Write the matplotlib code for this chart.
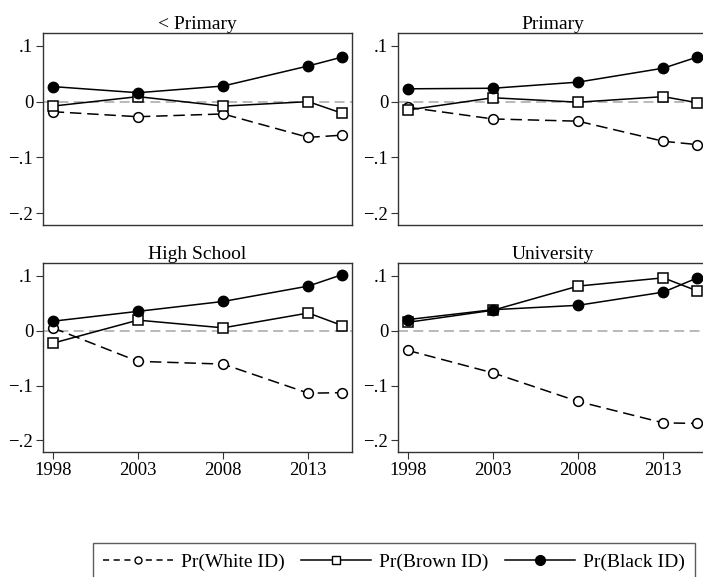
import numpy as np
import matplotlib.pyplot as plt
from matplotlib.lines import Line2D

plt.rcParams.update({
    "font.family": "serif",
    "font.serif": ["Liberation Serif", "DejaVu Serif"],
    "font.size": 11,
})

years = [1998, 2003, 2008, 2013, 2015]
panels = ["< Primary", "Primary", "High School", "University"]

# predicted changes by education group
white = [
    [-0.018, -0.027, -0.022, -0.064, -0.060],
    [-0.010, -0.031, -0.035, -0.071, -0.077],
    [0.005, -0.056, -0.061, -0.114, -0.113],
    [-0.036, -0.077, -0.129, -0.168, -0.169],
]
brown = [
    [-0.008, 0.009, -0.008, 0.000, -0.021],
    [-0.015, 0.007, -0.001, 0.009, -0.002],
    [-0.023, 0.019, 0.005, 0.032, 0.009],
    [0.015, 0.037, 0.081, 0.096, 0.072],
]
black = [
    [0.027, 0.016, 0.028, 0.064, 0.080],
    [0.023, 0.024, 0.035, 0.060, 0.080],
    [0.017, 0.035, 0.053, 0.081, 0.102],
    [0.020, 0.038, 0.046, 0.070, 0.096],
]

W, H = 703, 577
fig = plt.figure(figsize=(W / 100, H / 100), dpi=100)

# axes boxes in pixels: left, top, right, bottom
boxes = [
    (43, 33, 352, 225),
    (398, 33, 707, 225),
    (43, 263, 352, 452),
    (398, 263, 707, 452),
]

edge = "#333333"
for i, (l, t, r, b) in enumerate(boxes):
    ax = fig.add_axes([l / W, 1 - b / H, (r - l) / W, (b - t) / H])
    ax.axhline(0, color="#b3b3b3", lw=1.3, ls=(0, (5.5, 3)), zorder=1)
    ax.plot(years, white[i], color="black", lw=1.1, ls=(0, (7.5, 3.8)),
            marker="o", ms=7, mfc="white", mec="black", mew=1.1, zorder=3)
    ax.plot(years, brown[i], color="black", lw=1.1,
            marker="s", ms=7, mfc="white", mec="black", mew=1.1, zorder=3)
    ax.plot(years, black[i], color="black", lw=1.1,
            marker="o", ms=7.5, mfc="black", mec="black", zorder=4)
    ax.set_xlim(1997.43, 2015.56)
    ax.set_ylim(-0.221, 0.123)
    ax.set_yticks([0.1, 0, -0.1, -0.2])
    ax.set_yticklabels([".1", "0", "\u2212.1", "\u2212.2"])
    if i >= 2:
        ax.set_xticks([1998, 2003, 2008, 2013])
        ax.tick_params(axis="x", labelsize=13.5, length=5, color=edge, pad=2)
    else:
        ax.set_xticks([])
    ax.tick_params(axis="y", labelsize=13.5, length=5, color=edge, pad=2)
    for s in ax.spines.values():
        s.set_color(edge)
        s.set_linewidth(1.0)
    ax.set_title(panels[i], fontsize=14, pad=3)

handles = [
    Line2D([], [], color="black", lw=1.1, ls=(0, (4, 3)), marker="o", ms=5,
           mfc="white", mec="black"),
    Line2D([], [], color="black", lw=1.1, marker="s", ms=5.5,
           mfc="white", mec="black"),
    Line2D([], [], color="black", lw=1.1, marker="o", ms=7,
           mfc="black", mec="black"),
]
labels = ["Pr(White ID)", "Pr(Brown ID)", "Pr(Black ID)"]
leg = fig.legend(handles, labels, ncol=3, loc="upper left",
                 bbox_to_anchor=(92.7 / W, 1 - 542.7 / H),
                 fontsize=14, frameon=True, fancybox=False,
                 edgecolor=edge, handlelength=3.6, handletextpad=0.4,
                 columnspacing=0.85, borderpad=0.55, borderaxespad=0)
leg.get_frame().set_linewidth(1.0)

fig.savefig("out.png", dpi=100)
